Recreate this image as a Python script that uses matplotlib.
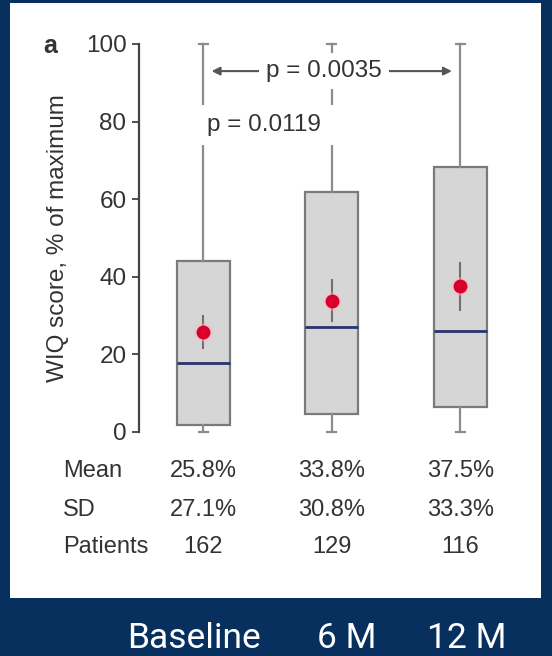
import matplotlib

matplotlib.use("Agg")
import matplotlib.pyplot as plt
import matplotlib.transforms as mtransforms
from matplotlib.patches import Rectangle

plt.rcParams["font.family"] = ["Liberation Sans", "DejaVu Sans"]

# WIQ score summary per visit (% of maximum)
visits = ["Baseline", "6 M", "12 M"]
whislo = [0, 0, 0]
q1 = [1.8, 4.5, 6.5]
median = [17.7, 27.0, 26.0]
q3 = [44.1, 61.9, 68.4]
whishi = [100, 100, 100]
mean = [25.8, 33.8, 37.5]
sd = [27.1, 30.8, 33.3]
patients = [162, 129, 116]
ci_half = [4.2, 5.3, 6.1]  # 95% CI of the mean

NAVY = "#07305f"
INK = "#333333"

fig = plt.figure(figsize=(5.52, 6.56), dpi=100)
fig.patch.set_facecolor(NAVY)
W, H = 552, 656
fig.patches.append(Rectangle((10 / W, 1 - 598 / H), 531 / W, 595 / H,
                             transform=fig.transFigure, facecolor="white",
                             edgecolor="none", zorder=-5))

ax = fig.add_axes([139 / W, 1 - 443.6 / H, 385.5 / W, 411.3 / H])
ax.set_facecolor("none")

stats = [dict(whislo=lo, q1=a, med=m, q3=b, whishi=hi, label=v)
         for lo, a, m, b, hi, v in zip(whislo, q1, median, q3, whishi, visits)]
pos = [1, 2, 3]
ax.bxp(stats, positions=pos, widths=0.41, capwidths=0.07, showfliers=False,
       patch_artist=True,
       boxprops=dict(facecolor="#d6d6d6", edgecolor="#7a7a7a", lw=1.6),
       medianprops=dict(color="#27336b", lw=2),
       whiskerprops=dict(color="#8c8c8c", lw=1.6),
       capprops=dict(color="#8c8c8c", lw=1.6))

# mean with 95% CI
for x, m, c in zip(pos, mean, ci_half):
    ax.plot([x, x], [m - c, m + c], color="#707070", lw=1.5, zorder=4)
    ax.plot(x, m, "o", ms=13, color="#ffb3c0", alpha=0.5, mec="none", zorder=5)
    ax.plot(x, m, "o", ms=10, color="#d8002a", mec="none", zorder=6)

ax.set_xlim(0.5, 3.5)
ax.set_ylim(-3, 103)
ax.set_yticks([0, 20, 40, 60, 80, 100])
ax.tick_params(axis="y", labelsize=17.5, length=5, width=1.2, color=INK,
               labelcolor=INK, pad=4)
ax.set_xticks([])
for s in ["top", "right", "bottom"]:
    ax.spines[s].set_visible(False)
ax.spines["left"].set_bounds(0, 100)
ax.spines["left"].set_linewidth(1.6)
ax.spines["left"].set_color("#444444")
ax.set_ylabel("WIQ score, % of maximum", fontsize=17.5, color=INK, labelpad=12)

# significance annotations (white boxes break the whiskers behind the text)
ax.annotate("", xy=(1.065, 93), xytext=(2.935, 93),
            arrowprops=dict(arrowstyle="<|-|>", color="#555555", lw=1.5,
                            mutation_scale=12, shrinkA=0, shrinkB=0),
            zorder=7)
ax.text(1.94, 93, "p = 0.0035", fontsize=17.5, color=INK, ha="center",
        va="center", zorder=8,
        bbox=dict(facecolor="white", edgecolor="none", pad=5))
ax.text(1.03, 79.2, "p = 0.0119 ", fontsize=17.5, color=INK, ha="left",
        va="center", zorder=8,
        bbox=dict(facecolor="white", edgecolor="none", pad=6.5))

fig.text(50 / W, 1 - 46 / H, "a", fontsize=18, fontweight="bold",
         color=INK, ha="center", va="center")

# summary table under the plot
trans = mtransforms.blended_transform_factory(ax.transData, fig.transFigure)
rows = [("Mean", [f"{v:.1f}%" for v in mean]),
        ("SD", [f"{v:.1f}%" for v in sd]),
        ("Patients", [str(v) for v in patients])]
for (name, vals), ypx in zip(rows, [471, 510, 547]):
    y = 1 - ypx / H
    fig.text(63 / W, y, name, fontsize=17, color=INK, ha="left", va="center")
    for x, v in zip(pos, vals):
        ax.text(x, y, v, transform=trans, fontsize=17, color=INK,
                ha="center", va="center")

for xpx, v in zip([194, 347, 467], visits):
    fig.text(xpx / W, 1 - 639 / H, v, fontsize=25.5, color="white",
             ha="center", va="center", family=["Roboto", "DejaVu Sans"])

fig.savefig("out.png", dpi=100, facecolor=NAVY)
